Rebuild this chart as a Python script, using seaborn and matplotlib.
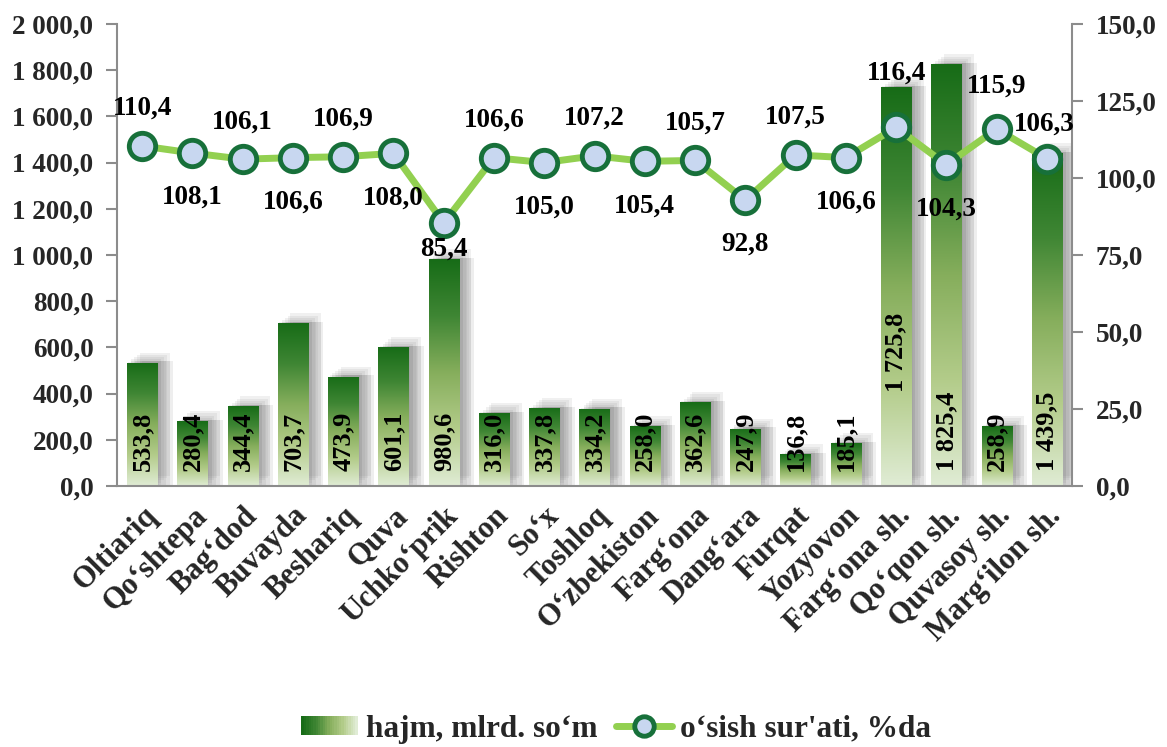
import numpy as np
import pandas as pd
import matplotlib
matplotlib.use("Agg")
import matplotlib.pyplot as plt
import seaborn as sns
from matplotlib.colors import LinearSegmentedColormap
from matplotlib.ticker import FuncFormatter, FixedLocator, MultipleLocator
from matplotlib.legend_handler import HandlerBase
from matplotlib.lines import Line2D
from matplotlib.patches import Rectangle
import matplotlib.patheffects as pe

# ---------------- data ----------------
districts = ["Oltiariq", "Qo‘shtepa", "Bag‘dod", "Buvayda", "Beshariq", "Quva",
             "Uchko‘prik", "Rishton", "So‘x", "Toshloq", "O‘zbekiston", "Farg‘ona",
             "Dang‘ara", "Furqat", "Yozyovon", "Farg‘ona sh.", "Qo‘qon sh.",
             "Quvasoy sh.", "Marg‘ilon sh."]
volume = [533.8, 280.4, 344.4, 703.7, 473.9, 601.1, 980.6, 316.0, 337.8, 334.2,
          258.0, 362.6, 247.9, 136.8, 185.1, 1725.8, 1825.4, 258.9, 1439.5]
growth = [110.4, 108.1, 106.1, 106.6, 106.9, 108.0, 85.4, 106.6, 105.0, 107.2,
          105.4, 105.7, 92.8, 107.5, 106.6, 116.4, 104.3, 115.9, 106.3]
series_names = ["hajm, mlrd. so‘m", "o‘sish sur'ati, %da"]

# ---------------- layout / style ----------------
growth_label_offsets = [(0, 27), (0, -32), (0, 27), (0, -32), (0, 27), (0, -32),
                        (0, -19), (0, 27), (0, -32), (0, 27), (0, -32), (0, 27),
                        (0, -32), (0, 27), (0, -32), (0, 39), (0, -32), (0, 31),
                        (-2, 25)]
bar_label_offsets = [11] * len(volume)
bar_label_offsets[15] = 68

LINE_C = "#92D050"
EDGE_C = "#17703A"
FACE_C = "#C8D7F0"
FS_TICK = 19.5
FS_X = 22
FS_BAR = 19
FS_PT = 19.5
FS_LEG = 22.5


def fmt_num(v, _=None):
    s = f"{v:,.1f}"
    return s.replace(",", " ").replace(".", ",")


sns.set_theme(style="white")
plt.rcParams["font.family"] = ["Liberation Serif", "DejaVu Serif"]
plt.rcParams["font.weight"] = "bold"

fig = plt.figure(figsize=(11.67, 7.47), dpi=100)
ax = fig.add_axes([0.1003, 0.3494, 0.8183, 0.6185])

df = pd.DataFrame({"district": districts, "volume": volume})
sns.barplot(data=df, x="district", y="volume", ax=ax, width=0.6,
            color="#4f8a3a", saturation=1, zorder=1)

cmap = LinearSegmentedColormap.from_list(
    "g", ["#E0ECD5", "#B3CC8A", "#86AE5C", "#3F8634", "#176C17"])
grad = np.linspace(0, 1, 256).reshape(-1, 1)

shadow_fx = [pe.SimplePatchShadow(offset=(o, o * 0.8), shadow_rgbFace="#7a7a7a", alpha=0.11)
             for o in (1, 3, 5, 7, 9)]
shadow_fx += [pe.SimplePatchShadow(offset=(o, 1), shadow_rgbFace="#7a7a7a", alpha=0.12)
              for o in (3, 6, 9, 11)]

for p in list(ax.patches):
    x0, y0 = p.get_x(), p.get_y()
    w, h = p.get_width(), p.get_height()
    p.set_facecolor("none")
    p.set_edgecolor("none")
    p.set_path_effects(shadow_fx)
    im = ax.imshow(grad, cmap=cmap, origin="lower", aspect="auto",
                   extent=(x0, x0 + w, y0, y0 + h), zorder=2, interpolation="bicubic")
    im.set_clip_path(p)

for i, v in enumerate(volume):
    ax.annotate(fmt_num(v), (i, 0), xytext=(0, bar_label_offsets[i]),
                textcoords="offset points", rotation=90, ha="center", va="bottom",
                fontsize=FS_BAR, fontweight="bold", color="black", zorder=5)

n = len(districts)
ax.set_xlim(-0.5, n - 0.5)
ax.set_ylim(0, 2000)
ax.yaxis.set_major_locator(MultipleLocator(200))
ax.yaxis.set_major_formatter(FuncFormatter(fmt_num))
ax.set_xlabel("")
ax.set_ylabel("")
ax.set_xticks(range(n))
ax.set_xticklabels(districts, rotation=45, ha="right", va="top",
                   rotation_mode="anchor", fontsize=FS_X, fontweight="bold")
ax.xaxis.set_minor_locator(FixedLocator(np.arange(-0.5, n, 1.0)))
ax.tick_params(axis="x", which="major", length=0, pad=11)
ax.tick_params(axis="x", which="minor", length=8, width=1.5, color="#8c8c8c", direction="out")
ax.tick_params(axis="y", length=8, width=1.5, color="#8c8c8c", direction="out",
               labelsize=FS_TICK, pad=9)
for lab in ax.get_yticklabels():
    lab.set_fontweight("bold")
for side in ("top", "right"):
    ax.spines[side].set_visible(False)
for side in ("left", "bottom"):
    ax.spines[side].set_color("#8c8c8c")
    ax.spines[side].set_linewidth(1.5)
ax.grid(False)

# ---------------- line on secondary axis ----------------
ax2 = ax.twinx()
pos = np.arange(n)
sns.lineplot(x=pos, y=growth, ax=ax2, color=LINE_C, linewidth=5, marker="o",
             markersize=19, markerfacecolor=FACE_C, markeredgecolor=EDGE_C,
             markeredgewidth=3.5, zorder=3)
ax2.set_ylim(0, 150)
ax2.set_xlim(-0.5, n - 0.5)
ax2.yaxis.set_major_locator(MultipleLocator(25))
ax2.yaxis.set_major_formatter(FuncFormatter(fmt_num))
ax2.tick_params(axis="y", length=8, width=1.5, color="#8c8c8c", direction="out",
                labelsize=FS_TICK, pad=9)
for lab in ax2.get_yticklabels():
    lab.set_fontweight("bold")
for side in ("top", "left", "bottom"):
    ax2.spines[side].set_visible(False)
ax2.spines["right"].set_color("#8c8c8c")
ax2.spines["right"].set_linewidth(1.5)
ax2.set_ylabel("")
ax2.grid(False)

for i, v in enumerate(growth):
    ax2.annotate(f"{v:.1f}".replace(".", ","), (i, v), xytext=growth_label_offsets[i],
                 textcoords="offset points", ha="center", va="center",
                 fontsize=FS_PT, fontweight="bold", color="black", zorder=6)


# ---------------- legend ----------------
class GradientHandler(HandlerBase):
    def create_artists(self, legend, orig_handle, xdescent, ydescent, width, height,
                       fontsize, trans):
        arts = []
        k = 24
        for j in range(k):
            c = cmap(1 - j / (k - 1))
            r = Rectangle((-xdescent + j * width / k, -ydescent), width / k + 0.3,
                          height, facecolor=c, edgecolor="none", transform=trans)
            arts.append(r)
        return arts


bar_handle = Rectangle((0, 0), 1, 1)
line_handle = Line2D([0], [0], color=LINE_C, linewidth=5, marker="o", markersize=14,
                     markerfacecolor=FACE_C, markeredgecolor=EDGE_C, markeredgewidth=3.5)
fig.legend([bar_handle, line_handle], series_names,
           handler_map={Rectangle: GradientHandler()},
           loc="center", bbox_to_anchor=(0.528, 0.024), ncol=2, frameon=False,
           prop={"size": FS_LEG, "weight": "bold"}, handlelength=1.8, columnspacing=0.6,
           handletextpad=0.25, handleheight=0.55)

fig.savefig("out.png", dpi=100)
